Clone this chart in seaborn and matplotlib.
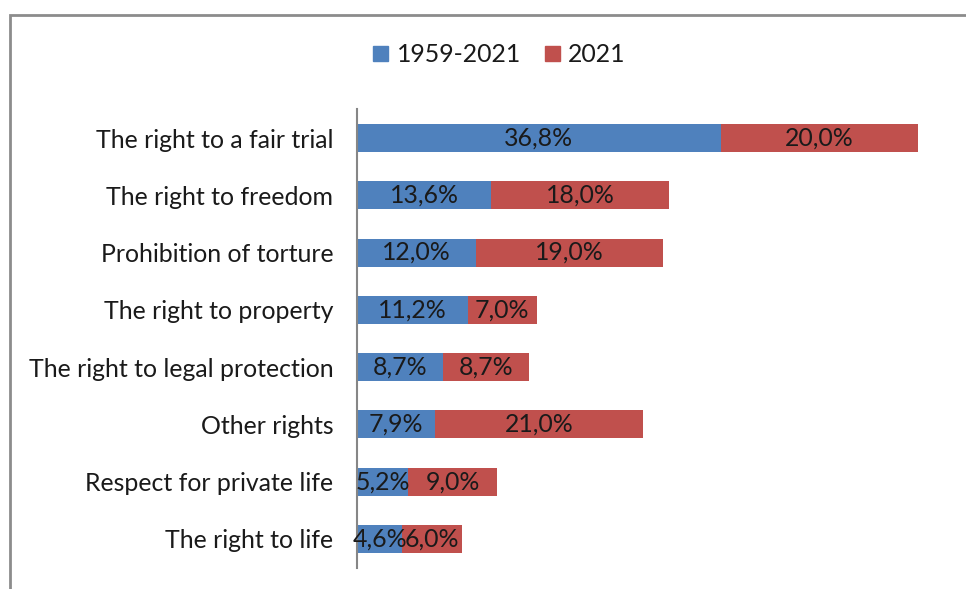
import pandas as pd
import seaborn as sns
import matplotlib.pyplot as plt
from matplotlib.patches import Patch, Rectangle

# data
rights = ["The right to a fair trial", "The right to freedom", "Prohibition of torture",
          "The right to property", "The right to legal protection", "Other rights",
          "Respect for private life", "The right to life"]
share_1959_2021 = [36.8, 13.6, 12.0, 11.2, 8.7, 7.9, 5.2, 4.6]
share_2021 = [20.0, 18.0, 19.0, 7.0, 8.7, 21.0, 9.0, 6.0]
series_names = ["1959-2021", "2021"]

df = pd.DataFrame({"right": rights, "a": share_1959_2021, "b": share_2021})
df["total"] = df["a"] + df["b"]

blue, red = "#4F81BD", "#C0504D"
fs = 17.9

sns.set_style("white")
plt.rcParams["font.family"] = ["Lato", "DejaVu Sans"]

fig = plt.figure(figsize=(9.66, 5.89), dpi=100)
ax = fig.add_axes([0.3696, 0.0363, 0.6138, 0.778])

# stacked: draw the total in red, then the first series in blue on top
sns.barplot(data=df, y="right", x="total", color=red, width=0.49, ax=ax,
            saturation=1, orient="h", linewidth=0)
sns.barplot(data=df, y="right", x="a", color=blue, width=0.49, ax=ax,
            saturation=1, orient="h", linewidth=0)

for i, row in df.iterrows():
    ax.text(row["a"] / 2, i, f"{row['a']:.1f}%".replace(".", ","),
            ha="center", va="center", fontsize=fs, color="#1a1a1a")
    ax.text(row["a"] + row["b"] / 2, i, f"{row['b']:.1f}%".replace(".", ","),
            ha="center", va="center", fontsize=fs, color="#1a1a1a")

ax.set_xlim(0, 60)
ax.set_ylim(7.5, -0.5)
ax.set_xlabel("")
ax.set_ylabel("")
ax.set_xticks([])
ax.tick_params(axis="y", length=0, pad=17, labelsize=fs, labelcolor="#1a1a1a")
for s in ["top", "right", "bottom"]:
    ax.spines[s].set_visible(False)
ax.spines["left"].set_color("#868686")
ax.spines["left"].set_linewidth(1.5)

handles = [Patch(color=blue), Patch(color=red)]
fig.legend(handles, series_names, loc="center", bbox_to_anchor=(0.517, 0.907),
           ncol=2, frameon=False, fontsize=fs, handlelength=0.6,
           handleheight=0.6, handletextpad=0.35, columnspacing=0.95,
           labelcolor="#1a1a1a")

# chart area border (cropped at right and bottom)
fig.patches.append(Rectangle((10 / 966, -0.1), 1.2, 1 - 15 / 589 + 0.1,
                             transform=fig.transFigure, fill=False,
                             edgecolor="#8c8c8c", linewidth=2))

fig.savefig("out.png", dpi=100)
